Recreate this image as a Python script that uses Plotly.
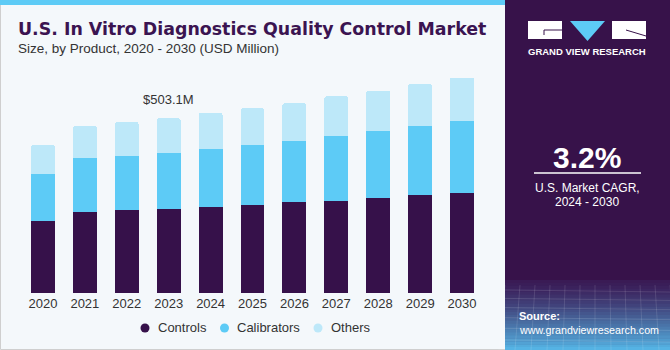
import plotly.graph_objects as go

# ---- data ----
years = ["2020", "2021", "2022", "2023", "2024", "2025", "2026", "2027", "2028", "2029", "2030"]
controls = [208.5, 234.4, 238.2, 243.1, 246.8, 254.6, 262.1, 265.0, 273.6, 282.2, 289.2]
calibrators = [133.3, 154.4, 157.5, 160.1, 167.9, 171.6, 175.7, 188.3, 192.1, 198.7, 206.2]
others = [83.5, 91.3, 95.9, 99.9, 104.8, 105.7, 108.6, 113.2, 116.1, 120.1, 125.0]
series_names = ["Controls", "Calibrators", "Others"]
series_colors = ["#36114A", "#5DCBF6", "#BDE8F9"]
highlight_year = "2023"
highlight_label = "$503.1M"

W, H = 670, 350
L, R, T, B = 22, 187, 70, 57
PW, PH = W - L - R, H - T - B
YMAX = 642

def xp(px):
    return (px - L) / PW

def yp(py):
    return 1 - (py - T) / PH

FONT = "Liberation Sans"

fig = go.Figure()
for name, vals, col in zip(series_names, [controls, calibrators, others], series_colors):
    fig.add_trace(go.Bar(x=years, y=vals, name=name, marker=dict(color=col, line=dict(width=0)),
                         showlegend=False, hoverinfo="skip"))

shapes = []
shapes.append(dict(type="rect", xref="paper", yref="paper", x0=xp(0.5), x1=xp(508), y0=yp(349.5), y1=yp(0),
                   fillcolor="#F4F8FB", line=dict(color="#CFCFCF", width=1), layer="below"))
shapes.append(dict(type="rect", xref="paper", yref="paper", x0=xp(0), x1=xp(508), y0=yp(5), y1=yp(0),
                   fillcolor="#5DCBF6", line=dict(width=0), layer="below"))
shapes.append(dict(type="rect", xref="paper", yref="paper", x0=xp(505), x1=xp(670), y0=yp(350), y1=yp(0),
                   fillcolor="#37124A", line=dict(width=0), layer="below"))
c0 = (0x3A, 0x1A, 0x55)
c1 = (0x56, 0xB8, 0xE8)
n = 24
y_start, y_end = 280, 350
for i in range(n):
    t = (i + 0.5) / n
    t2 = t ** 1.3
    c = tuple(int(a + (b - a) * t2) for a, b in zip(c0, c1))
    ya = y_start + (y_end - y_start) * i / n
    yb = y_start + (y_end - y_start) * (i + 1) / n + 0.5
    shapes.append(dict(type="rect", xref="paper", yref="paper", x0=xp(505), x1=xp(670), y0=yp(yb), y1=yp(ya),
                       fillcolor="rgb(%d,%d,%d)" % c, line=dict(width=0), layer="below"))
for k in range(8):
    yy = 290 + k * 8 + k * k * 0.4
    shapes.append(dict(type="line", xref="paper", yref="paper", x0=xp(505), x1=xp(670), y0=yp(yy), y1=yp(yy + 2),
                       line=dict(color="rgba(255,255,255,0.12)", width=1), layer="below"))
for k in range(12):
    xx = 505 + k * 15
    shapes.append(dict(type="line", xref="paper", yref="paper", x0=xp(xx), x1=xp(xx - 6 + k), y0=yp(285), y1=yp(350),
                       line=dict(color="rgba(255,255,255,0.12)", width=1), layer="below"))
# logo
shapes.append(dict(type="rect", xref="paper", yref="paper", x0=xp(528), x1=xp(562), y0=yp(39), y1=yp(21),
                   fillcolor="white", line=dict(width=0)))
shapes.append(dict(type="line", xref="paper", yref="paper", x0=xp(544), x1=xp(562), y0=yp(30), y1=yp(30),
                   line=dict(color="#37124A", width=1)))
shapes.append(dict(type="line", xref="paper", yref="paper", x0=xp(544), x1=xp(544), y0=yp(30), y1=yp(35),
                   line=dict(color="#37124A", width=1)))
shapes.append(dict(type="path", xref="paper", yref="paper",
                   path="M %f %f L %f %f L %f %f Z" % (xp(570), yp(21), xp(605), yp(21), xp(587.5), yp(41)),
                   fillcolor="#5DCBF6", line=dict(width=0)))
shapes.append(dict(type="rect", xref="paper", yref="paper", x0=xp(612), x1=xp(646), y0=yp(39), y1=yp(21),
                   fillcolor="white", line=dict(width=0)))
shapes.append(dict(type="line", xref="paper", yref="paper", x0=xp(626), x1=xp(646), y0=yp(30), y1=yp(36),
                   line=dict(color="#37124A", width=1)))
shapes.append(dict(type="line", xref="paper", yref="paper", x0=xp(534), x1=xp(641), y0=yp(173), y1=yp(173),
                   line=dict(color="white", width=1.5)))

annotations = [
    dict(text="<b>U.S. In Vitro Diagnostics Quality Control Market</b>", x=xp(16), y=yp(28.5),
         xanchor="left", yanchor="middle", font=dict(size=17.4, color="#3B1451", family="DejaVu Sans")),
    dict(text="Size, by Product, 2020 - 2030 (USD Million)", x=xp(16), y=yp(48.5),
         xanchor="left", yanchor="middle", font=dict(size=13.5, color="#333333", family=FONT)),
    dict(text="<b>GRAND VIEW RESEARCH</b>", x=xp(587), y=yp(51.5), xanchor="center", yanchor="middle",
         font=dict(size=9.5, color="white", family=FONT)),
    dict(text="<b>3.2%</b>", x=xp(587), y=yp(157), xanchor="center", yanchor="middle",
         font=dict(size=30, color="white", family=FONT)),
    dict(text="U.S. Market CAGR,", x=xp(587), y=yp(188), xanchor="center", yanchor="middle",
         font=dict(size=12, color="white", family=FONT)),
    dict(text="2024 - 2030", x=xp(587), y=yp(202), xanchor="center", yanchor="middle",
         font=dict(size=12, color="white", family=FONT)),
    dict(text="<b>Source:</b>", x=xp(517), y=yp(316), xanchor="left", yanchor="middle",
         font=dict(size=11, color="white", family=FONT)),
    dict(text="www.grandviewresearch.com", x=xp(517), y=yp(330), xanchor="left", yanchor="middle",
         font=dict(size=10.7, color="white", family=FONT)),
]

# manual legend (circle markers + labels)
legend_marker_x = [145, 224.5, 318]
legend_y = 328
for name, col, mx in zip(series_names, series_colors, legend_marker_x):
    shapes.append(dict(type="circle", xref="paper", yref="paper",
                       x0=xp(mx - 4.5), x1=xp(mx + 4.5), y0=yp(legend_y + 4.5), y1=yp(legend_y - 4.5),
                       fillcolor=col, line=dict(width=0)))
    annotations.append(dict(text=name, x=xp(mx + 10.5), y=yp(legend_y - 0.5), xanchor="left", yanchor="middle",
                            font=dict(size=13, color="#333333", family=FONT)))

for a in annotations:
    a.update(xref="paper", yref="paper", showarrow=False)

hi = years.index(highlight_year)
total_hi = controls[hi] + calibrators[hi] + others[hi]
annotations.append(dict(text=highlight_label, x=hi, y=total_hi, xref="x", yref="y",
                        yanchor="bottom", yshift=9, showarrow=False,
                        font=dict(size=13, color="#333333", family=FONT)))

fig.update_layout(
    width=W, height=H, margin=dict(l=L, r=R, t=T, b=B),
    paper_bgcolor="#F4F8FB", plot_bgcolor="rgba(0,0,0,0)",
    barmode="stack", bargap=0.43, barcornerradius=2,
    showlegend=False,
    font=dict(family=FONT, color="#333333"),
    xaxis=dict(type="category", categoryorder="array", categoryarray=years, range=[-0.5, len(years) - 0.5],
               showgrid=False, showline=False, zeroline=False, ticks="", ticklabelstandoff=1,
               tickfont=dict(size=13, color="#333333", family=FONT), fixedrange=True),
    yaxis=dict(range=[0, YMAX], visible=False, fixedrange=True),
    shapes=shapes, annotations=annotations,
)

fig.write_html("out.html")
